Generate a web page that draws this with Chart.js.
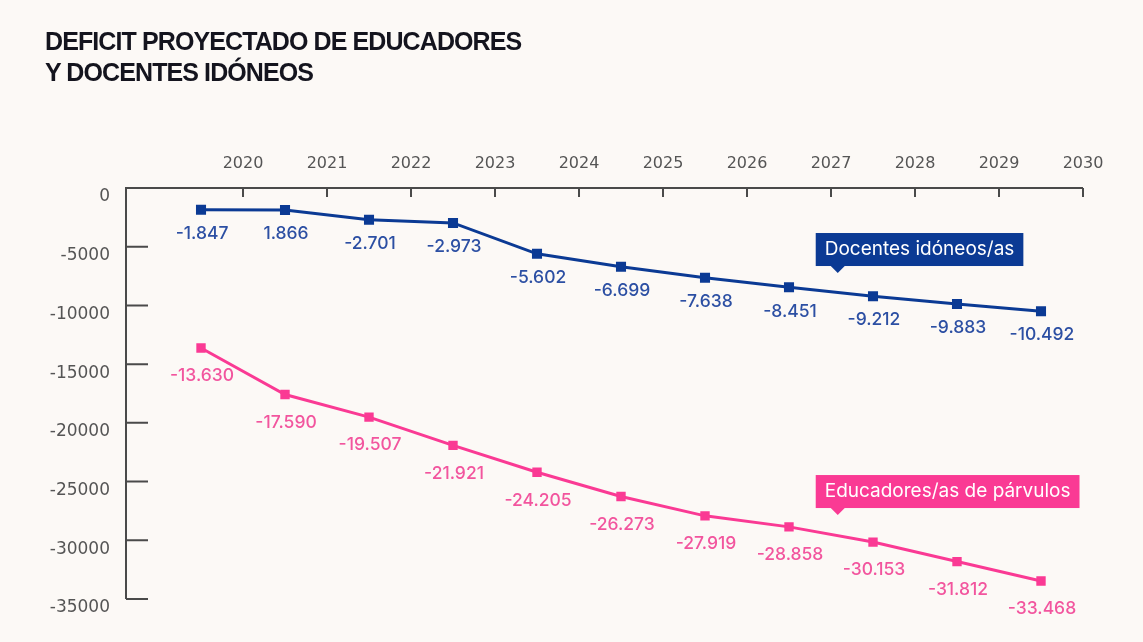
<!DOCTYPE html>
<html>
<head>
<meta charset="utf-8">
<script src="https://cdn.jsdelivr.net/npm/chart.js@4"></script>
<style>
  html, body { margin: 0; padding: 0; background: #FCF9F6; }
  #wrap { position: relative; width: 1143px; height: 642px; }
  #title {
    position: absolute; left: 45px; top: 26px;
    font: bold 25px "Liberation Sans", Arial, sans-serif;
    line-height: 31px; letter-spacing: -0.9px; color: #14141E;
  }
</style>
</head>
<body>
<div id="wrap">
  <div id="title">DEFICIT PROYECTADO DE EDUCADORES<br>Y DOCENTES IDÓNEOS</div>
  <canvas id="chart" width="1143" height="642"></canvas>
</div>
<script>
const years = ['2020', '2021', '2022', '2023', '2024', '2025', '2026', '2027', '2028', '2029', '2030'];

const docentes = [-1847, -1866, -2701, -2973, -5602, -6699, -7638, -8451, -9212, -9883, -10492];
const docentesLabels = ['-1.847', '1.866', '-2.701', '-2.973', '-5.602', '-6.699', '-7.638', '-8.451', '-9.212', '-9.883', '-10.492'];

const educadores = [-13630, -17590, -19507, -21921, -24205, -26273, -27919, -28858, -30153, -31812, -33468];
const educadoresLabels = ['-13.630', '-17.590', '-19.507', '-21.921', '-24.205', '-26.273', '-27.919', '-28.858', '-30.153', '-31.812', '-33.468'];

const BLUE = '#0B3A94';
const PINK = '#FA3A94';
const AXIS = '#4a4a4a';

// series tags (callout boxes), anchored at their pointer tip in data units
const tags = [
  { text: 'Docentes idóneos/as', color: BLUE, x: 7.58, y: -7240 },
  { text: 'Educadores/as de párvulos', color: PINK, x: 7.58, y: -27850 }
];

const axisPlugin = {
  id: 'axisLines',
  afterDraw(chart) {
    const { ctx, chartArea: a, scales } = chart;
    ctx.save();
    ctx.strokeStyle = AXIS;
    ctx.lineWidth = 2;
    ctx.beginPath();
    ctx.moveTo(a.left, a.bottom);
    ctx.lineTo(a.left, a.top);
    ctx.lineTo(a.right, a.top);
    scales.x.ticks.forEach(t => {
      const px = scales.x.getPixelForValue(t.value);
      ctx.moveTo(px, a.top);
      ctx.lineTo(px, a.top + 9);
    });
    scales.y.ticks.forEach(t => {
      const py = scales.y.getPixelForValue(t.value);
      ctx.moveTo(a.left, py);
      ctx.lineTo(a.left + 22, py);
    });
    ctx.stroke();
    ctx.restore();
  }
};

const labelPlugin = {
  id: 'pointLabels',
  afterDatasetsDraw(chart) {
    const { ctx } = chart;
    ctx.save();
    ctx.font = '500 17.5px Inter, sans-serif';
    ctx.textAlign = 'center';
    ctx.textBaseline = 'middle';
    chart.data.datasets.forEach((ds, di) => {
      const meta = chart.getDatasetMeta(di);
      ctx.fillStyle = ds.labelColor;
      meta.data.forEach((pt, i) => {
        ctx.fillText(ds.valueLabels[i], pt.x + 1, pt.y + ds.labelDy);
      });
    });
    ctx.restore();
  }
};

const tagPlugin = {
  id: 'seriesTags',
  afterDraw(chart) {
    const { ctx, scales } = chart;
    ctx.save();
    ctx.font = '19px Inter, sans-serif';
    ctx.textBaseline = 'middle';
    ctx.textAlign = 'left';
    tags.forEach(tg => {
      const tx = scales.x.getPixelForValue(tg.x);
      const ty = scales.y.getPixelForValue(tg.y);
      const w = ctx.measureText(tg.text).width + 18;
      const h = 33;
      const left = tx - 22;
      const bottom = ty - 7;
      ctx.fillStyle = tg.color;
      ctx.fillRect(left, bottom - h, w, h);
      ctx.beginPath();
      ctx.moveTo(tx - 7, bottom);
      ctx.lineTo(tx + 7, bottom);
      ctx.lineTo(tx, ty);
      ctx.closePath();
      ctx.fill();
      ctx.fillStyle = '#ffffff';
      ctx.fillText(tg.text, left + 9, bottom - h / 2);
    });
    ctx.restore();
  }
};

new Chart(document.getElementById('chart'), {
  type: 'line',
  data: {
    datasets: [{
      label: 'Docentes idóneos/as',
      data: docentes.map((v, i) => ({ x: i, y: v })),
      valueLabels: docentesLabels,
      labelColor: '#2C4FA3',
      labelDy: 24,
      borderColor: BLUE,
      backgroundColor: BLUE,
      borderWidth: 3,
      pointStyle: 'rect',
      pointRadius: 5,
      tension: 0
    }, {
      label: 'Educadores/as de párvulos',
      data: educadores.map((v, i) => ({ x: i, y: v })),
      valueLabels: educadoresLabels,
      labelColor: '#F2559E',
      labelDy: 28,
      borderColor: PINK,
      backgroundColor: PINK,
      borderWidth: 3,
      pointStyle: 'rect',
      pointRadius: 4.5,
      tension: 0
    }]
  },
  options: {
    responsive: false,
    animation: false,
    layout: { padding: { left: 0, top: 148, right: 60, bottom: 43 } },
    plugins: {
      legend: { display: false },
      tooltip: { enabled: false }
    },
    scales: {
      x: {
        type: 'linear',
        position: 'top',
        min: -0.893,
        max: 10.5,
        afterBuildTicks: s => { s.ticks = years.map((y, i) => ({ value: i + 0.5 })); },
        afterFit: s => { s.height = 40; },
        grid: { display: false, drawTicks: false },
        border: { display: false },
        ticks: {
          padding: 15,
          color: '#555555',
          font: { family: 'DejaVu Sans', size: 16 },
          maxRotation: 0,
          autoSkip: false,
          callback: (v, i) => years[i]
        }
      },
      y: {
        min: -35000,
        max: 0,
        afterFit: s => { s.width = 126; },
        grid: { display: false, drawTicks: false },
        border: { display: false },
        ticks: {
          stepSize: 5000,
          padding: 16,
          labelOffset: 9,
          color: '#555555',
          font: { family: 'DejaVu Sans', size: 17 },
          callback: v => String(v)
        }
      }
    }
  },
  plugins: [axisPlugin, labelPlugin, tagPlugin]
});
</script>
</body>
</html>
